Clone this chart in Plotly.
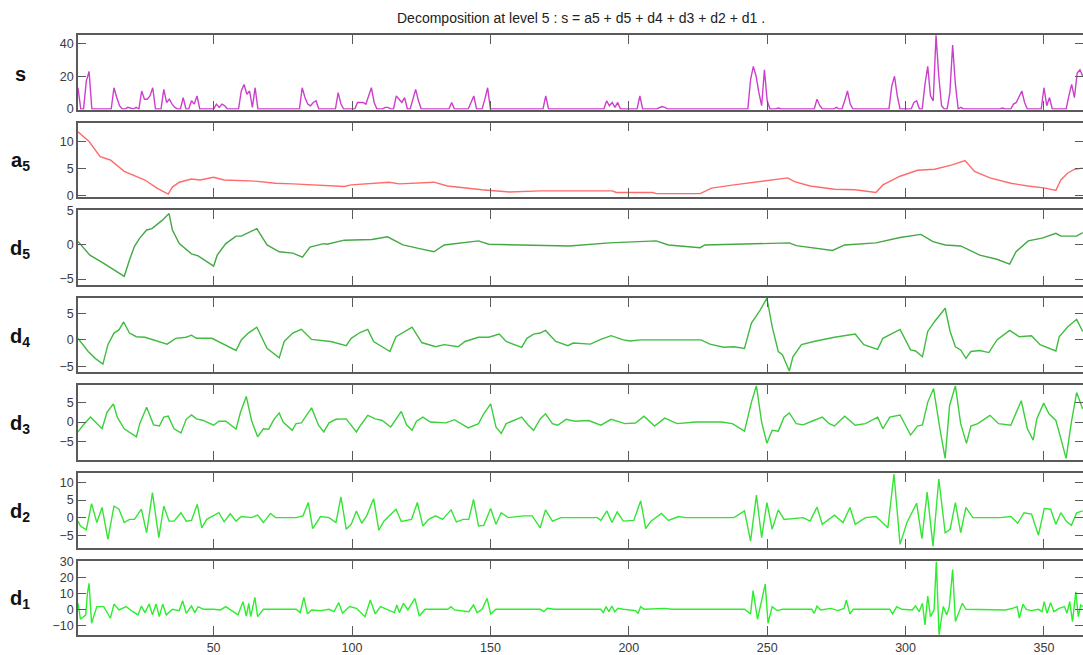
import plotly.graph_objects as go
from plotly.subplots import make_subplots

# ---------------- data ----------------
s_x = [1, 2, 3, 4, 5, 6, 13, 14, 15, 16, 17, 18, 19, 20, 21, 22, 23, 24, 25, 26, 27, 28, 29,
       31, 32, 33, 34, 35, 36, 37, 38, 39, 40, 41, 42, 43, 44, 45, 50, 51, 52, 53, 54, 55,
       59, 60, 61, 62, 63, 64, 65, 66, 81, 82, 83, 84, 85, 86, 87, 88, 94, 95, 96, 97,
       101, 102, 103, 104, 105, 106, 107, 108, 109, 111, 112, 113, 114, 115, 116, 117, 118, 119, 120,
       121, 122, 123, 124, 125, 135, 136, 137, 142, 143, 144, 145, 147, 148, 149, 150,
       169, 170, 171, 191, 192, 193, 194, 195, 196, 197, 203, 204, 205, 210, 211, 212, 213, 214,
       243, 244, 245, 246, 247, 248, 249, 250, 251, 253, 254, 255, 267, 268, 269, 270,
       274, 275, 276, 277, 278, 279, 280, 281, 294, 295, 296, 297, 298, 302, 303, 304, 305,
       306, 307, 308, 309, 310, 311, 312, 313, 314, 315, 316, 317, 318, 319, 320, 321,
       334, 335, 336, 338, 339, 340, 341, 342, 343, 344, 349, 350, 351, 352, 353,
       358, 359, 360, 361, 362, 363, 364]
s_y = [13, 0, 0, 17, 23, 0, 0, 13, 7, 2, 0, 0, 1, 0.5, 0, 1, 0, 11, 6, 6, 8, 13, 0,
       0, 12, 4, 6, 3, 1, 0, 0, 7, 0, 0, 5, 3, 8, 0, 0, 3, 1, 3, 2, 0,
       0, 11, 15, 9, 11, 1, 13, 0, 0, 13, 7, 3, 2, 4, 5, 0, 0, 10, 3, 0,
       0, 4, 4, 4, 3, 8, 13, 4, 0, 0, 1, 1, 0, 0, 8, 6, 4, 7, 0,
       0, 6, 12, 5, 0, 0, 4, 0, 0, 4, 8, 0, 0, 6, 13, 0,
       0, 8, 0, 0, 5, 2, 4, 1, 4, 0, 0, 8, 0, 0, 1, 1.5, 1, 0,
       0, 18, 26, 20, 10, 2, 24, 5, 0, 0, 0.6, 0, 0, 6, 2, 0,
       0, 1, 0, 0, 5, 11, 3, 0, 0, 14, 20, 8, 0, 0, 4, 5, 0,
       0, 15, 26, 8, 5, 45, 20, 2, 0, 0, 10, 39, 15, 0, 1, 0,
       0, 0.6, 0, 0, 3, 4, 8, 11, 4, 0, 0, 13, 2, 7, 0,
       0, 8, 15, 7, 22, 24, 20]

a5_x = [1, 5, 9, 12.7, 17.7, 20.2, 25.2, 29.5, 33.6, 35.1, 37.6, 42, 45.1, 50, 53.8, 64.9, 72.4,
        78.6, 84.8, 97.2, 99.7, 113.4, 117.1, 129.6, 134.5, 146.9, 156.9, 168, 194, 195.5,
        208.6, 210, 225.8, 229.9, 238, 249.3, 257.4, 259.9, 265.5, 274.3, 281.8, 289.3, 291.8,
        298, 304.3, 310.5, 316.8, 321.5, 324.9, 330.5, 338, 344.3, 350.5, 354.3, 356.1, 358.6,
        361.1, 364]
a5_y = [11.8, 10.0, 7.2, 6.6, 4.5, 4.0, 2.9, 1.4, 0.3, 1.6, 2.5, 3.1, 2.9, 3.4, 2.9, 2.7, 2.3,
        2.2, 2.0, 1.7, 2.0, 2.5, 2.2, 2.5, 1.8, 1.1, 0.7, 0.9, 0.9, 0.6,
        0.6, 0.4, 0.4, 1.4, 2.0, 2.8, 3.3, 2.6, 1.8, 1.2, 1.1, 0.6, 2.0,
        3.6, 4.7, 4.9, 5.7, 6.5, 4.5, 3.3, 2.3, 1.8, 1.4, 1.0, 2.9, 4.2,
        4.9, 5.1]

d5_x = [1, 5.3, 10.3, 17.7, 19.6, 21.4, 23.3, 25.8, 27.7, 31.4, 33.9, 35.1, 37.6, 42, 44.4, 50,
        51.3, 54.4, 58.1, 60, 65.6, 69.3, 73.7, 78.6, 82.1, 84.8, 89.8, 91, 97.2, 107.2, 112.8,
        118.4, 124, 129.6, 133.3, 137, 145.7, 149.4, 159.1, 168, 178.6, 193, 205.5, 209.9,
        214.3, 225.8, 227.4, 245.5, 258, 260.5, 273.6, 278, 289.3, 298, 305.5, 309.9, 314.3,
        319.9, 326.8, 333, 337.6, 339.9, 344.3, 349.3, 354.3, 356.1, 361.8, 364]
d5_y = [0.5, -1.5, -2.7, -4.6, -2.2, -0.2, 1.0, 2.2, 2.4, 3.6, 4.6, 2.2, 0.2, -1.3, -1.6, -3.1,
        -1.5, 0.2, 1.3, 1.3, 2.4, 0, -1.0, -1.2, -1.8, -0.3, 0.2, 0.1, 0.7, 0.8, 1.2,
        0, -0.5, -1.0, 0, 0.2, 0.6, 0.1, 0, -0.15, -0.15, 0.3, 0.6, 0.6,
        0, -0.4, 0, 0.2, 0.3, -0.1, -0.8, 0, 0.3, 1.1, 1.55, 0.5, 0,
        -0.15, -1.5, -2.1, -2.8, -1.0, 0.6, 1.0, 1.7, 1.3, 1.3, 1.8]

d4_x = [1, 4.7, 7.2, 10, 11.8, 14, 15.8, 17.5, 19.6, 22.1, 25.2, 33.2, 36.3, 40.1, 42, 43.8, 49.4,
        58.1, 60, 62.5, 65.6, 69.3, 73.7, 75.5, 78.6, 81.7, 85.4, 92.3, 97.9, 99.7, 102.9, 105.7,
        107.8, 110.9, 113.7, 115.9, 118.4, 121.7, 125.2, 130.2, 133.3, 138.3, 140.8, 145.7,
        149.4, 153.2, 155.7, 161.3, 163.2, 165.6, 168, 169.9, 173.6, 178, 179.9, 186.1, 189.9,
        193.6, 198, 200.5, 204.3, 226.1, 229.3, 234.3, 238, 241.8, 244.3, 247.4, 249.9, 251.8,
        254, 255.5, 258, 259.3, 262.4, 266.8, 274.3, 281.8, 284.9, 289.9, 291.8, 298, 301.8,
        303.6, 306.1, 308, 310.5, 314.3, 316.1, 318, 319.9, 321.8, 323.6, 326.8, 330.1, 333,
        337.6, 341.1, 345.5, 348.6, 354.3, 355.5, 358.6, 361.8, 364]
d4_y = [0.3, -2.2, -3.5, -4.6, -0.9, 1.3, 1.9, 3.4, 1.3, 0.6, 0.5, -0.8, 0.3, 0.5, 0.9, 0.3, 0.3,
        -2.0, 0, 1.3, 2.4, -1.6, -3.4, -0.3, 1.3, 2.0, 0.1, -0.3, -1.1, 0.3, 1.4, 2.0,
        -0.3, -1.3, -2.2, 0.6, 1.4, 2.4, -0.5, -1.3, -0.9, -1.3, -0.3, 0.5,
        0.5, 1.1, -0.3, -1.4, 0.3, 1.1, 1.3, 1.8, -0.3, -1.1, -0.6, -0.8, 0.1,
        0.8, 0, -0.2, 0, 0, -0.8, -1.4, -1.3, -1.6, 3.2, 5.6, 7.9, 2.5,
        -2.2, -2.8, -5.9, -3.2, -0.9, -0.3, 0.5, 1.1, -0.9, -1.8, 0.3, 2.0, -1.9,
        -2.1, -3.2, 1.6, 3.5, 6.0, 1.6, -1.3, -1.9, -3.5, -2.2, -2.0, -2.4, 0,
        1.8, 0.6, 0.8, -0.9, -2.1, 0.6, 2.5, 3.9, 1.6]

d3_x = [1, 2.8, 5.5, 9.7, 11.5, 13.8, 15.2, 17.7, 22.1, 23.3, 25.8, 28.3, 30.4, 32, 33.6, 35.7,
        38.2, 40.1, 42, 43.8, 46.3, 50, 51.9, 54.4, 58.1, 59.7, 61.8, 63.7, 65.9, 68, 69.9, 71.8,
        73.7, 75.1, 78.4, 79.8, 81.7, 85.4, 87.9, 89.8, 91.7, 94.2, 97.9, 101.6, 102.9, 105.7,
        108.4, 110.9, 114, 115.9, 117.8, 119.7, 121.7, 123.3, 125.6, 128.3, 133.9, 137, 142,
        145.7, 147.6, 150.1, 152, 153.9, 155.7, 161.3, 163.7, 165.6, 168, 169.9, 172.4, 174.3,
        177.4, 180.5, 185.5, 189.9, 193.6, 198.6, 202.4, 205.5, 209.3, 213, 217.4, 224.3, 233.6,
        237.4, 241.8, 244.3, 246.1, 248, 249.9, 251.8, 254, 256.1, 258, 260.5, 263, 266.1, 269.9,
        272.4, 274.3, 278, 281.8, 285.5, 289.9, 291.8, 294.3, 298, 301.8, 304.3, 306.1, 308,
        310.1, 312.4, 314.3, 315.9, 318, 319.9, 322, 323.6, 326.1, 330.5, 333.6, 338, 341.8,
        344, 346.1, 347.4, 349.9, 351.8, 354.3, 356.1, 358, 359.9, 361.8, 364]
d3_y = [-2.5, -0.8, 1.25, -1.7, 2.5, 4.6, 1.25, -1.7, -3.75, -0.4, 3.75, -0.7, -1.0, 1.25, 1.5, -1.7,
        -2.75, 0.7, 1.8, 0.8, 0.4, -0.8, 0.2, 0.2, -1.8, 2.5, 6.5, 0.4, -3.75, -1.7, -1.8, 0.7,
        2.3, 0, -2.1, -0.4, -0.2, 3.6, -0.8, -2.5, -0.2, 0.7, 0.8, -2.5, -1.0, 1.7,
        0.8, 0.4, -1.25, 0.7, 2.7, -0.7, -2.1, 0.2, 1.25, 0, -0.2, 0.6, -1.5,
        -0.4, 2.1, 4.6, -1.25, -2.9, -0.4, 1.25, -0.8, -2.1, 0.8, 2.1, -0.4, -0.8,
        0.7, 0.2, 0.4, -0.8, 0.7, -0.4, -0.25, 1.5, -1.0, 1.0, -0.4, 0, 0,
        -0.4, -2.3, 5.0, 9.2, 0, -5.4, -2.1, -2.3, 1.25, 2.3, -0.4, -0.7, 0.2, 1.25,
        -0.4, -1.0, 1.5, -0.8, -0.4, 1.25, -1.7, 1.25, 1.8, -3.3, -1.0, -0.7, 5.0,
        8.5, -1.7, -9.2, 4.2, 9.2, -0.4, -5.4, -1.0, -0.4, 1.7, -0.4, -0.8, 5.4,
        -1.7, -4.6, 0.8, 4.8, 2.1, 0.4, -4.2, -9.2, 0, 7.5, 3.3]

d2_x = [1, 1.9, 4, 5.9, 7.8, 9.7, 11.8, 14, 15.8, 17.7, 19.6, 21.4, 23.9, 25.8, 27.9, 30.2, 32,
        33.9, 35.7, 38.2, 40.1, 42, 44.1, 45.7, 47.5, 50, 51.9, 53.8, 56, 58.1, 60, 63.7, 65.9,
        68, 70.5, 72.4, 79.8, 82.3, 84.2, 85.8, 88.6, 91.7, 94.2, 96, 97.9, 99.7, 101.6, 103.5,
        105.3, 107.8, 109.7, 111.5, 115.9, 117.8, 121.5, 123.6, 125.6, 127.7, 130.2, 132.7,
        135.8, 137.7, 140.2, 142.2, 143.9, 145.7, 147.6, 150.1, 152, 153.9, 156.4, 162, 165.1,
        168, 169.9, 172.4, 175.5, 188.6, 189.9, 192.1, 193.9, 195.8, 198, 201.8, 204.3, 206.1,
        208, 211.8, 214.3, 218, 220.5, 238, 241.8, 244, 246.1, 248, 249.9, 251.8, 254, 256.1,
        263, 265.5, 268, 269.9, 274.3, 277.4, 279.9, 281.8, 285.5, 289.3, 293.6, 295.8, 298,
        300.5, 304, 305.9, 307.8, 309.9, 312, 314.3, 316.1, 318, 319.9, 321.8, 324.3, 334.3,
        338, 340.5, 342.8, 345.5, 348, 350.1, 352.4, 354.3, 356.1, 358, 359.9, 361.8, 364]
d2_y = [-1.0, -2.4, -3.5, 4.0, -1.4, 2.9, -6.2, 3.3, 2.4, -1.4, -0.5, -0.5, 2.4, -4.3, 7.1, -5.7, 3.3,
        -1.0, -1.0, 1.4, -1.0, -0.8, 3.8, -2.9, -0.5, 0.7, 1.4, -1.2, 1.1, -1.0, 0.3, 0, 0.7,
        -1.4, 1.2, 0, 0, 0.5, 4.3, -3.1, 0.3, 0, -1.4, 5.9, -3.3, -1.9, 1.9, -1.6,
        0.5, 5.4, -3.6, -1.0, 2.4, -1.1, -0.5, 4.3, -2.4, -0.5, 0.5, -0.5,
        2.2, -1.2, -0.5, -0.5, 5.2, -2.4, -2.2, 2.6, -1.9, 1.4, 0, 0.5, 0.5,
        -2.9, 2.2, -1.0, 0, 0, -0.8, 1.9, -1.4, 1.6, -1.0, -0.8, 4.8, -3.1,
        -1.0, 1.2, -0.8, 0.3, 0, 0, 1.9, -6.7, 6.4, -5.7, 4.3, -3.3, 2.2, -0.5,
        0, -1.0, 3.0, -1.9, 0.7, -1.4, 2.9, -1.9, 0, 0.3, -2.9, 12.4, -7.6,
        -1.4, 4.1, -6.0, 7.3, -8.1, 11.0, -4.3, -3.3, 4.3, -4.3, 2.9, 0, 0,
        0.3, -1.6, 1.4, 1.0, -5.0, 2.6, 2.4, -1.9, 1.4, -1.0, -2.2, 1.4, 1.9]

d1_x = [1, 1.9, 3.8, 4.4, 5, 5.9, 7.8, 10.3, 12.7, 14, 15.8, 18.4, 20.8, 22.7, 23.9, 25.2, 26.7,
        27.9, 29.2, 30.4, 31.6, 32.9, 35.1, 37.6, 38.8, 40.1, 42, 43.2, 44.4, 46.3, 50, 52.5,
        54.4, 56.3, 58.8, 60.6, 61.8, 62.7, 63.4, 64.9, 65.9, 68, 79.8, 81.3, 82.6, 83.9, 85.4,
        88.6, 91.7, 93.5, 95.2, 96.6, 99.1, 101.6, 104.7, 106.6, 108.4, 110.3, 112.8, 115.3,
        116.2, 117.1, 118.6, 120.2, 122.7, 124.3, 126.4, 134.5, 135.8, 137, 142.2, 143.9, 145.2,
        147, 148.8, 150.1, 152, 168, 169.3, 170.5, 173, 189.9, 190.8, 191.8, 192.8, 193.9, 194.9,
        196.1, 198, 202.4, 203.3, 204.3, 205.5, 213, 215.5, 241.8, 244, 244.9, 246.5, 249.3,
        250.3, 251.8, 253.6, 255.5, 266.1, 267, 268, 269.3, 273, 275.5, 277.8, 278.6, 279.9,
        281.1, 294.3, 295.3, 296.8, 298.6, 302.4, 303.6, 304.9, 306.1, 307, 308, 309, 310.3,
        311.1, 312.1, 313.6, 314.9, 315.8, 317, 318, 319.3, 320.5, 321.8, 334.3, 336.1, 338.6,
        340.3, 341.1, 342.4, 343.6, 345.5, 348, 349.3, 350.1, 351.1, 352.4, 353.6, 355.5, 357.4,
        358.3, 359.3, 360.3, 361.5, 362.4, 363.3, 364]
d1_y = [3.75, -6.25, -3.5, 10, 16.3, -8.75, 1.7, 1.7, -5.6, 3.3, -0.4, 1.7, -1.5, -3.5, 2.1, -2.1, 3.3,
        -3.5, 3.3, -4.6, 3.3, -3.5, 0, -0.8, 5.4, -2.5, 2.1, -2.1, 1.7, 0, 0, -0.4,
        1.7, -0.4, -3.5, 4.8, -4.2, 3.75, -4.6, 7.5, -4.6, 0, 0, -2.1, 7.5, -2.9, -0.4,
        -0.8, 0, -1.5, 4.2, -2.5, 1.7, 0.6, -4.6, 5.8, -2.9, 1.7, -0.4, -2.1,
        2.7, -2.1, 3.75, -0.4, 6.9, -4.2, 0, 0, 1.7, -0.4, -1.5, 2.7, -2.1,
        0, 6.9, -2.9, 0, 0, -1.5, 0.6, 0, 0, -2.1, 1.7, -1.5, 2.1, -1.5,
        0.6, 0, -0.8, -2.5, 1.7, 0, 0.6, 0, 0, -2.9, 11.7, -6.25, 15.8,
        -8.75, 1.7, -0.8, 0, 0, -2.5, 2.1, -0.4, 0.6, -0.8, 0.6, 5.8, -2.9,
        0, 0, -2.9, 1.7, 0, -0.4, 2.1, -1.5, 3.75, -9.8, 8.3, -4.6, -0.4,
        29.8, -16.0, 1.7, -3.5, 1.7, 25.0, -7.7, -1.5, 3.75, 0, 0, -0.4, 0.6,
        1.7, -5.6, 3.3, 0, -0.8, 0, -1.5, 4.8, -2.5, 4.2, -1.5, 0.6, 1.7,
        -2.5, 4.8, -7.7, 11.0, -4.6, 2.7, 1.7]

row_labels = ['<b>s</b>', '<b>a<sub>5</sub></b>', '<b>d<sub>5</sub></b>', '<b>d<sub>4</sub></b>',
              '<b>d<sub>3</sub></b>', '<b>d<sub>2</sub></b>', '<b>d<sub>1</sub></b>']
y_ticks = [[0, 20, 40], [0, 5, 10], [-5, 0, 5], [-5, 0, 5], [-5, 0, 5], [-5, 0, 5, 10],
           [-10, 0, 10, 20, 30]]
x_ticks = [50, 100, 150, 200, 250, 300, 350]
title_text = 'Decomposition at level 5 : s = a5 + d5 + d4 + d3 + d2 + d1 .'

# ---------------- styling ----------------
W, H = 1083, 655
ML = 78
series = [(s_x, s_y), (a5_x, a5_y), (d5_x, d5_y), (d4_x, d4_y), (d3_x, d3_y), (d2_x, d2_y), (d1_x, d1_y)]
colors = ['#cc3fcc', '#ff6b6b', '#44a844', '#40bb40', '#3ccf3c', '#35e535', '#2cee2c']
y_ranges = [[-0.3, 45.2], [-0.25, 13.5], [-5.83, 5.1], [-6.14, 7.98], [-9.6, 9.3], [-8.5, 12.7],
            [-16.2, 30.6]]
x_range = [1, 364.1]
top0, step, ph = 35.0, 87.6, 74.5
axis_col = '#5a5a5a'
font_fam = 'Liberation Sans, Arial, sans-serif'

fig = make_subplots(rows=7, cols=1)
annotations = []
for i, (xs, ys) in enumerate(series):
    top = top0 + i * step
    bot = top + ph
    fig.add_trace(go.Scatter(x=xs, y=ys, mode='lines',
                             line=dict(color=colors[i], width=1.4),
                             showlegend=False, hoverinfo='skip'), row=i + 1, col=1)
    fig.update_yaxes(row=i + 1, col=1, domain=[1 - bot / H, 1 - top / H], range=y_ranges[i],
                     tickvals=y_ticks[i], ticks='inside', ticklen=8, tickwidth=1.4,
                     tickcolor=axis_col, showline=True, linecolor=axis_col, linewidth=1.6,
                     mirror='ticks', showgrid=False, zeroline=False, automargin=False,
                     tickfont=dict(family=font_fam, size=12.5, color='#3a3a3a'))
    fig.update_xaxes(row=i + 1, col=1, domain=[0, 1], range=x_range, tickvals=x_ticks,
                     ticks='inside', ticklen=9, tickwidth=1.4, tickcolor=axis_col,
                     showline=True, linecolor=axis_col, linewidth=1.6, mirror='ticks',
                     showgrid=False, zeroline=False, showticklabels=(i == 6), automargin=False,
                     tickfont=dict(family=font_fam, size=12.5, color='#3a3a3a'))
    annotations.append(dict(text=row_labels[i], xref='paper', yref='paper',
                            x=(20 - ML) / (W - ML), y=1 - (top + ph / 2 + 2) / H,
                            xanchor='center', yanchor='middle', showarrow=False,
                            font=dict(family=font_fam, size=20, color='#111111')))

annotations.append(dict(text=title_text, xref='paper', yref='paper', x=0.5, y=1 - 18 / H,
                        xanchor='center', yanchor='middle', showarrow=False,
                        font=dict(family=font_fam, size=14, color='#222222')))

fig.update_layout(width=W, height=H, margin=dict(l=ML, r=0, t=0, b=0),
                  plot_bgcolor='white', paper_bgcolor='white', annotations=annotations)

fig.write_html('out.html', config={'displayModeBar': False},
               post_script="document.body.style.margin='0';document.body.style.overflow='hidden';")
